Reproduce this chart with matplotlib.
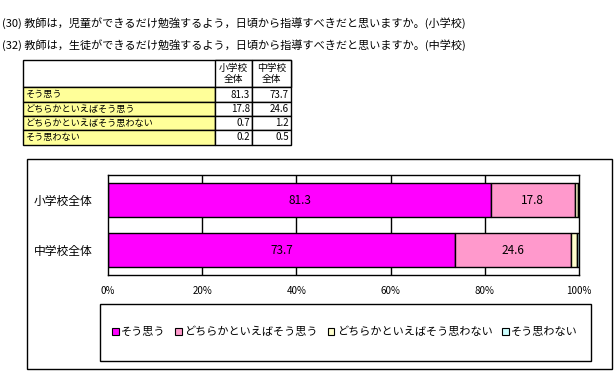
import matplotlib
matplotlib.use("Agg")
import matplotlib.pyplot as plt
from matplotlib.patches import Rectangle, Patch

plt.rcParams['font.family'] = ['Noto Sans CJK JP', 'DejaVu Sans']

titles = ["(30) 教師は，児童ができるだけ勉強するよう，日頃から指導すべきだと思いますか。(小学校)",
          "(32) 教師は，生徒ができるだけ勉強するよう，日頃から指導すべきだと思いますか。(中学校)"]
categories = ["小学校全体", "中学校全体"]
col_headers = ["小学校\n全体", "中学校\n全体"]
responses = ["そう思う", "どちらかといえばそう思う", "どちらかといえばそう思わない", "そう思わない"]
elem = [81.3, 17.8, 0.7, 0.2]
junior = [73.7, 24.6, 1.2, 0.5]
colors = ["#FF00FF", "#FF99CC", "#FFFFCC", "#CCFFFF"]
xticks = [0, 20, 40, 60, 80, 100]

W, H = 614, 371
fig = plt.figure(figsize=(W / 100, H / 100), dpi=100)

# overlay axes in pixel coordinates
ov = fig.add_axes([0, 0, 1, 1])
ov.set_xlim(0, W)
ov.set_ylim(H, 0)
ov.axis('off')

# titles
ov.text(2, 23, titles[0], fontsize=8, va='center', ha='left')
ov.text(2, 45, titles[1], fontsize=8, va='center', ha='left')

# table
tx0, tx1, tx2, tx3 = 23, 215, 252, 291
rows_y = [60, 87, 102, 116, 130, 145]
ov.add_patch(Rectangle((tx0, rows_y[0]), tx3 - tx0, rows_y[1] - rows_y[0], fc='white', ec='black', lw=1))
for xa, xb in [(tx1, tx2), (tx2, tx3)]:
    ov.add_patch(Rectangle((xa, rows_y[0]), xb - xa, rows_y[1] - rows_y[0], fc='white', ec='black', lw=1))
for j, hdr in enumerate(col_headers):
    xa, xb = [(tx1, tx2), (tx2, tx3)][j]
    ov.text((xa + xb) / 2, (rows_y[0] + rows_y[1]) / 2, hdr, fontsize=7, ha='center', va='center', linespacing=1.1)
for i, resp in enumerate(responses):
    ya, yb = rows_y[i + 1], rows_y[i + 2]
    ov.add_patch(Rectangle((tx0, ya), tx1 - tx0, yb - ya, fc='#FFFF99', ec='black', lw=1))
    ov.add_patch(Rectangle((tx1, ya), tx2 - tx1, yb - ya, fc='white', ec='black', lw=1))
    ov.add_patch(Rectangle((tx2, ya), tx3 - tx2, yb - ya, fc='white', ec='black', lw=1))
    ov.text(tx0 + 2, (ya + yb) / 2, resp, fontsize=6.6, ha='left', va='center')
    ov.text(tx2 - 2, (ya + yb) / 2, f"{elem[i]:.1f}", fontsize=7, ha='right', va='center')
    ov.text(tx3 - 2, (ya + yb) / 2, f"{junior[i]:.1f}", fontsize=7, ha='right', va='center')

# chart outer box
ov.add_patch(Rectangle((27, 159), 585, 210, fc='none', ec='black', lw=1))
# legend box
ov.add_patch(Rectangle((100, 304), 491, 57, fc='white', ec='black', lw=1))

# bar chart axes
px0, px1, py0, py1 = 108, 579, 175, 275
ax = fig.add_axes([px0 / W, 1 - py1 / H, (px1 - px0) / W, (py1 - py0) / H])
ax.set_xlim(0, 100)
ax.set_ylim(1.5, -0.5)
for x in xticks[1:-1]:
    ax.axvline(x, color='black', lw=1, zorder=0)
data = [elem, junior]
ypos = list(range(len(categories)))
left = [0.0, 0.0]
handles = []
for k, resp in enumerate(responses):
    vals = [data[c][k] for c in range(len(categories))]
    bars = ax.barh(ypos, vals, left=left, height=0.67, color=colors[k], edgecolor='black', lw=1, zorder=2)
    handles.append(Patch(fc=colors[k], ec='black', lw=0.8, label=resp))
    for c, b in enumerate(bars):
        if vals[c] >= 10:
            ax.text(left[c] + vals[c] / 2, ypos[c], f"{vals[c]:.1f}", ha='center', va='center', fontsize=8.5, zorder=3)
    left = [left[c] + vals[c] for c in range(len(categories))]
ax.set_yticks(ypos)
ax.set_yticklabels(categories, fontsize=8.5)
ax.set_xticks(xticks)
ax.set_xticklabels([f"{x}%" for x in xticks], fontsize=7)
ax.tick_params(length=0, pad=8)
ax.tick_params(axis='y', pad=11)
for s in ax.spines.values():
    s.set_color('black')
    s.set_linewidth(1)

leg = fig.legend(handles=handles, loc='center', bbox_to_anchor=(345 / W, 1 - 332 / H), ncol=4,
                 frameon=False, fontsize=8, handlelength=0.6, handleheight=0.6, handletextpad=0.2,
                 columnspacing=0.9, borderaxespad=0)

fig.savefig("out.png", dpi=100)
